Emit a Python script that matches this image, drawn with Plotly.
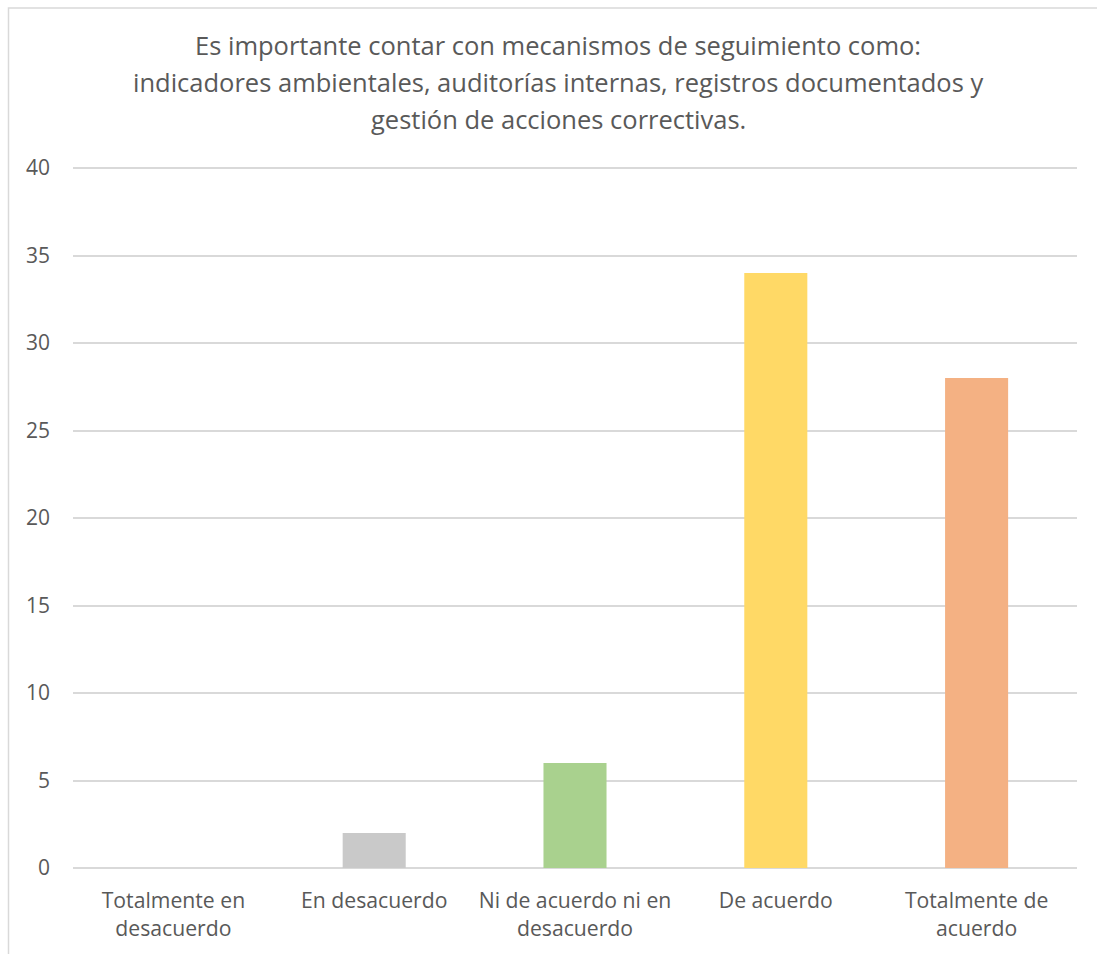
import plotly.graph_objects as go

# Survey responses
categories = [
    "Totalmente en<br>desacuerdo",
    "En desacuerdo",
    "Ni de acuerdo ni en<br>desacuerdo",
    "De acuerdo",
    "Totalmente de<br>acuerdo",
]
counts = [0, 2, 6, 34, 28]
bar_colors = ["#9dc3e6", "#c9c9c9", "#a9d18e", "#ffd966", "#f4b183"]

title_lines = [
    "Es importante contar con mecanismos de seguimiento como:",
    "indicadores ambientales, auditorías internas, registros documentados y",
    "gestión de acciones correctivas.",
]

y_ticks = [0, 5, 10, 15, 20, 25, 30, 35, 40]

W, H = 1097, 954
# plot area top sits 2px above the 40 gridline so that gridline is not clipped
ML, MR, MT, MB = 73, 20, 166, 84
PW, PH = W - ML - MR, H - MT - MB
Y_MAX = 40 * PH / (PH - 2)

FONT = "Open Sans"
TXT = "#595959"
GRID = "#d9d9d9"


def px_to_paper_x(px):
    return (px - ML) / PW


def px_to_paper_y(py):
    return (H - MB - py) / PH


fig = go.Figure(
    go.Bar(
        x=categories,
        y=counts,
        marker=dict(color=bar_colors, line=dict(width=0)),
        hoverinfo="x+y",
    )
)

# Title, one annotation per line for Excel-like line spacing
title_y_px = [45, 82, 119]
annotations = []
for line, ypx in zip(title_lines, title_y_px):
    annotations.append(
        dict(
            text=line,
            x=px_to_paper_x(558),
            y=px_to_paper_y(ypx),
            xref="paper",
            yref="paper",
            xanchor="center",
            yanchor="middle",
            showarrow=False,
            font=dict(family=FONT, size=25.5, color=TXT),
        )
    )

# Chart area border
shapes = [
    dict(
        type="rect",
        xref="paper",
        yref="paper",
        x0=px_to_paper_x(8.5),
        x1=px_to_paper_x(W + 20),
        y0=px_to_paper_y(H + 20),
        y1=px_to_paper_y(7.5),
        line=dict(color=GRID, width=1.5),
        fillcolor="rgba(0,0,0,0)",
        layer="below",
    )
]

fig.update_layout(
    width=W,
    height=H,
    margin=dict(l=ML, r=MR, t=MT, b=MB, pad=0),
    paper_bgcolor="white",
    plot_bgcolor="white",
    bargap=0.686,
    showlegend=False,
    annotations=annotations,
    shapes=shapes,
    font=dict(family=FONT, color=TXT, size=21),
    xaxis=dict(
        showgrid=False,
        showline=False,
        ticks="",
        ticklabelstandoff=18,
        tickfont=dict(family=FONT, size=21.2, color=TXT),
        fixedrange=True,
    ),
    yaxis=dict(
        range=[0, Y_MAX],
        tickvals=y_ticks,
        showgrid=True,
        gridcolor=GRID,
        gridwidth=1.5,
        zeroline=True,
        zerolinecolor=GRID,
        zerolinewidth=1.5,
        showline=False,
        ticks="",
        ticklabelstandoff=22,
        tickfont=dict(family=FONT, size=21, color=TXT),
        fixedrange=True,
    ),
)

fig.write_html("out.html")
